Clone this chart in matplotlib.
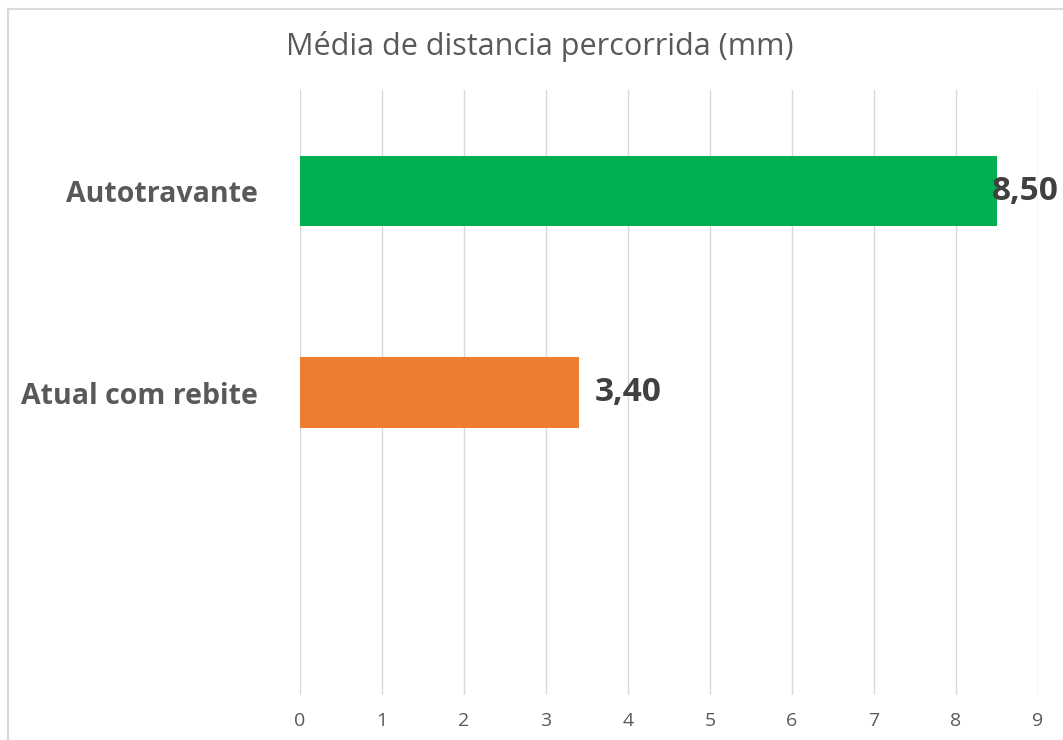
import matplotlib.pyplot as plt
from matplotlib.patches import Rectangle

# data
categories = ["", "Atual com rebite", "Autotravante"]
values = [None, 3.40, 8.50]
colors = [None, "#ED7D31", "#00B050"]
x_ticks = list(range(0, 10))
title = "Média de distancia percorrida (mm)"

plt.rcParams['font.family'] = ['Open Sans', 'DejaVu Sans']

fig = plt.figure(figsize=(10.63, 7.40), dpi=100)
ax = fig.add_axes([0.282, 0.061, 0.6945, 0.817])

# light frame of the chart area (right/bottom fall outside the picture)
fig.patches.append(Rectangle((8 / 1063, -0.05), 1.2, 1 - 9 / 740 + 0.05,
                             transform=fig.transFigure, fill=False,
                             edgecolor="#D9D9D9", linewidth=1.5))

ypos = list(range(len(categories)))
for y, v, c in zip(ypos, values, colors):
    if v is None:
        continue
    ax.barh(y, v, height=0.35, color=c, zorder=2)
    lx = min(v + 0.19, 8.44)
    ax.text(lx, y, f"{v:.2f}".replace(".", ","), va="center", ha="left",
            fontsize=24, fontweight="bold", color="#404040", clip_on=False)

ax.set_xlim(0, 9)
ax.set_ylim(-0.5, len(categories) - 0.5)
ax.set_xticks(x_ticks)
ax.set_xticklabels([str(t) for t in x_ticks], fontsize=14, color="#595959")
ax.set_yticks(ypos)
ax.set_yticklabels(categories, fontsize=20.5, fontweight="bold", color="#595959")
ax.tick_params(axis="both", length=0)
ax.tick_params(axis="x", pad=12)
ax.tick_params(axis="y", pad=30)
ax.grid(axis="x", color="#D9D9D9", linewidth=1, zorder=0)
for s in ax.spines.values():
    s.set_visible(False)

fig.text(540 / 1063, 1 - 46 / 740, title, ha="center", va="center",
         fontsize=22, color="#595959")

fig.savefig("out.png", dpi=100)
